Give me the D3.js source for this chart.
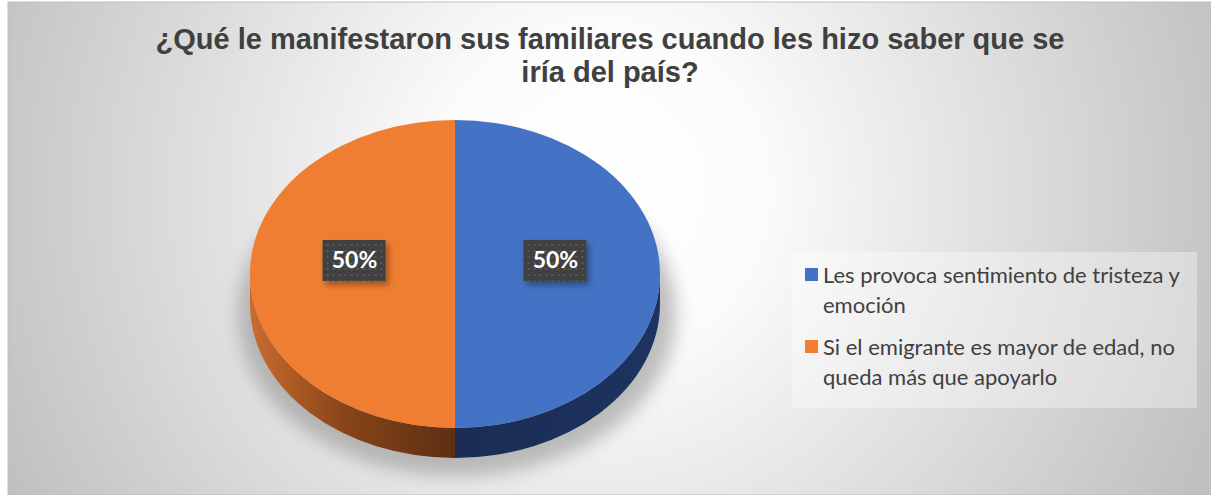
<html>
<head>
<meta charset="utf-8">
<script src="https://d3js.org/d3.v7.min.js"></script>
<style>
  body { margin: 0; background: #ffffff; }
</style>
</head>
<body>
<div id="chart"></div>
<script>

// Chart data
var categories = ["Les provoca sentimiento de tristeza y emoción",
                  "Si el emigrante es mayor de edad, no queda más que apoyarlo"]
var values = [50, 50]
var value_labels = ["50%", "50%"]
var legend_lines = [["Les provoca sentimiento de tristeza y", "emoción"],
                    ["Si el emigrante es mayor de edad, no", "queda más que apoyarlo"]]
var title_lines = ["¿Qué le manifestaron sus familiares cuando les hizo saber que se", "iría del país?"]

var top_colors = ["#4472c4", "#ef7e32"]

var svg_width = 1211
var svg_height = 495

var svg = d3.select("#chart").append("svg")
  .attr("width", svg_width)
  .attr("height", svg_height)

var defs = svg.append("defs")

// background radial gradient
var bg = defs.append("radialGradient")
  .attr("id", "bg_grad")
  .attr("gradientUnits", "userSpaceOnUse")
  .attr("cx", 600).attr("cy", 190).attr("r", 660)
bg.append("stop").attr("offset", "0%").attr("stop-color", "#ffffff")
bg.append("stop").attr("offset", "25%").attr("stop-color", "#fbfbfb")
bg.append("stop").attr("offset", "100%").attr("stop-color", "#c0c0c0")

// side gradients
var side_orange = defs.append("linearGradient")
  .attr("id", "side_1")
  .attr("x1", "0%").attr("x2", "100%").attr("y1", "0%").attr("y2", "0%")
side_orange.append("stop").attr("offset", "0%").attr("stop-color", "#c96c2f")
side_orange.append("stop").attr("offset", "45%").attr("stop-color", "#8a4519")
side_orange.append("stop").attr("offset", "100%").attr("stop-color", "#5c2f12")

var side_blue = defs.append("linearGradient")
  .attr("id", "side_0")
  .attr("x1", "0%").attr("x2", "100%").attr("y1", "0%").attr("y2", "0%")
side_blue.append("stop").attr("offset", "0%").attr("stop-color", "#1a2c52")
side_blue.append("stop").attr("offset", "100%").attr("stop-color", "#1d3361")

// blur for shadows
defs.append("filter").attr("id", "soft")
  .attr("x", "-20%").attr("y", "-20%").attr("width", "140%").attr("height", "140%")
  .append("feGaussianBlur").attr("stdDeviation", 9)

var lbl_filter = defs.append("filter").attr("id", "lbl_shadow")
  .attr("x", "-30%").attr("y", "-30%").attr("width", "170%").attr("height", "180%")
lbl_filter.append("feDropShadow")
  .attr("dx", 3).attr("dy", 4).attr("stdDeviation", 3)
  .attr("flood-color", "#000").attr("flood-opacity", 0.35)

// dotted pattern for the data labels
var pat = defs.append("pattern")
  .attr("id", "dots")
  .attr("patternUnits", "userSpaceOnUse")
  .attr("width", 6).attr("height", 6)
pat.append("rect").attr("width", 6).attr("height", 6).attr("fill", "#404040")
pat.append("rect").attr("x", 2).attr("y", 2).attr("width", 2).attr("height", 2).attr("fill", "#585858")

// chart area
svg.append("rect")
  .attr("x", 8).attr("y", 2)
  .attr("width", svg_width - 8).attr("height", svg_height - 2)
  .attr("fill", "url(#bg_grad)")
  .attr("stroke", "#bfbfbf")
  .attr("stroke-width", 1)

// title
svg.append("g").selectAll("text")
  .data(title_lines)
  .enter().append("text")
  .text(function(d) { return d })
  .attr("x", 610)
  .attr("y", function(d, i) { return 49 + i * 33 })
  .attr("text-anchor", "middle")
  .attr("font-family", "Liberation Sans, Arial, sans-serif")
  .attr("font-weight", "bold")
  .attr("font-size", 29)
  .attr("fill", "#404040")

// 3D pie geometry
var cx = 455, cy = 274, rx = 205, ry = 154, depth = 30

var pie = d3.pie().sort(null)
var arcs = pie(values)

var pt = function(a, dy) {
  return [cx + rx * Math.sin(a), cy - ry * Math.cos(a) + (dy || 0)]
}

var top_path = function(d) {
  var p0 = pt(d.startAngle), p1 = pt(d.endAngle)
  var large = (d.endAngle - d.startAngle) > Math.PI ? 1 : 0
  return "M" + cx + "," + cy + " L" + p0 + " A" + rx + " " + ry + " 0 " + large + " 1 " + p1 + " Z"
}

// only the front part of the rim (3 o'clock to 9 o'clock) is visible
var side_path = function(d) {
  var a0 = Math.max(d.startAngle, Math.PI / 2)
  var a1 = Math.min(d.endAngle, 3 * Math.PI / 2)
  if (a1 <= a0) return null
  var p0 = pt(a0), p1 = pt(a1), q1 = pt(a1, depth), q0 = pt(a0, depth)
  return "M" + p0 + " A" + rx + " " + ry + " 0 0 1 " + p1 +
    " L" + q1 + " A" + rx + " " + ry + " 0 0 0 " + q0 + " Z"
}

var pie_g = svg.append("g")

// soft shadow under the pie
pie_g.append("ellipse")
  .attr("cx", cx + 2).attr("cy", cy + depth + 10)
  .attr("rx", rx + 14).attr("ry", ry + 8)
  .attr("fill", "#8c8c8c")
  .attr("opacity", 0.55)
  .attr("filter", "url(#soft)")

pie_g.selectAll(".side")
  .data(arcs)
  .enter().append("path")
  .attr("class", "side")
  .attr("d", side_path)
  .attr("fill", function(d, i) { return "url(#side_" + i + ")" })

pie_g.selectAll(".top")
  .data(arcs)
  .enter().append("path")
  .attr("class", "top")
  .attr("d", top_path)
  .attr("fill", function(d, i) { return top_colors[i] })

// data labels
var label_pos = function(d) {
  var mid = (d.startAngle + d.endAngle) / 2
  return [cx + rx * 0.49 * Math.sin(mid), cy - ry * 0.49 * Math.cos(mid) - 14]
}

var lbl = pie_g.selectAll(".lbl")
  .data(arcs)
  .enter().append("g")
  .attr("class", "lbl")
  .attr("transform", function(d) { return "translate(" + label_pos(d) + ")" })

lbl.append("rect")
  .attr("x", -32).attr("y", -20)
  .attr("width", 63).attr("height", 41)
  .attr("fill", "url(#dots)")
  .attr("filter", "url(#lbl_shadow)")

lbl.append("text")
  .text(function(d, i) { return value_labels[i] })
  .attr("text-anchor", "middle")
  .attr("y", 8)
  .attr("font-family", "Lato, sans-serif")
  .attr("font-weight", "bold")
  .attr("font-size", 23)
  .attr("fill", "#ffffff")

// legend
var legend = svg.append("g")

legend.append("rect")
  .attr("x", 792).attr("y", 252)
  .attr("width", 405).attr("height", 156)
  .attr("fill", "#ffffff")
  .attr("fill-opacity", 0.35)

var item = legend.selectAll(".item")
  .data(categories)
  .enter().append("g")
  .attr("class", "item")
  .attr("transform", function(d, i) { return "translate(805," + (268 + i * 72) + ")" })

item.append("rect")
  .attr("width", 13).attr("height", 13)
  .attr("fill", function(d, i) { return top_colors[i] })

item.append("text")
  .attr("font-family", "Lato, sans-serif")
  .attr("font-size", 22)
  .attr("fill", "#404040")
  .selectAll("tspan")
  .data(function(d, i) { return legend_lines[i] })
  .enter().append("tspan")
  .attr("x", 18)
  .attr("y", function(d, j) { return 15 + j * 30 })
  .text(function(d) { return d })

</script>
</body>
</html>
